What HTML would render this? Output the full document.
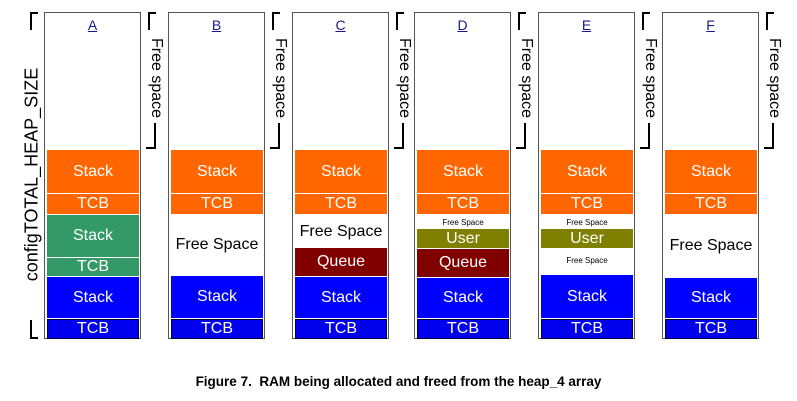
<!DOCTYPE html>
<html><head><meta charset="utf-8"><style>
body{margin:0;width:797px;height:401px;background:#fff;position:relative;overflow:hidden;font-family:"Liberation Sans",Arial,sans-serif}
.col{position:absolute;top:12px;width:97px;height:327px;border:1px solid #555;box-sizing:border-box}
.b{position:absolute;left:2px;width:92px;color:#fff;font-size:16px;display:flex;align-items:center;justify-content:center;box-sizing:border-box}
.o{background:#ff6600}.g{background:#339966}.bl{background:#0000ff}.q{background:#800000}.u{background:#808000}
.t{background:#0000ee;border:1px solid #000033}
.f{color:#000;background:none}
.lab{position:absolute;top:4px;width:100%;text-align:center;color:#1a1a8c;text-decoration:underline;font-size:14px}
.fs{position:absolute;top:12px;width:14px;height:137px}
.fs .v1{position:absolute;left:2px;top:0;width:2px;height:18px;background:#000}
.fs .h1{position:absolute;left:2px;top:0;width:8px;height:2px;background:#000}
.fs .v2{position:absolute;left:8px;bottom:0;width:2px;height:26px;background:#000}
.fs .h2{position:absolute;left:0;bottom:0;width:10px;height:2px;background:#000}
.fs span{position:absolute;left:-38px;top:57px;width:96px;text-align:center;transform:rotate(90deg);font-size:16px;color:#000;white-space:nowrap}
</style></head><body>
<div style="position:absolute;left:30px;top:12px;width:2px;height:18px;background:#000"></div>
<div style="position:absolute;left:30px;top:12px;width:8px;height:2px;background:#000"></div>
<div style="position:absolute;left:30px;top:320px;width:2px;height:19px;background:#000"></div>
<div style="position:absolute;left:30px;top:337px;width:8px;height:2px;background:#000"></div>
<div style="position:absolute;left:-80px;top:164px;width:224px;text-align:center;transform:rotate(-90deg);font-size:18px;white-space:nowrap">configTOTAL_HEAP_SIZE</div>

<div class="col" style="left:44px"><div class="lab">A</div>
<div class="b o" style="top:137px;height:43px">Stack</div>
<div class="b o" style="top:181px;height:20px">TCB</div>
<div class="b g" style="top:202px;height:42px">Stack</div>
<div class="b g" style="top:245px;height:18px">TCB</div>
<div class="b bl" style="top:264px;height:41px">Stack</div>
<div class="b t" style="top:306px;height:20px">TCB</div></div>
<div class="fs" style="left:146px"><div class="v1"></div><div class="h1"></div><div class="v2"></div><div class="h2"></div><span>Free space</span></div>

<div class="col" style="left:168px"><div class="lab">B</div>
<div class="b o" style="top:137px;height:43px">Stack</div>
<div class="b o" style="top:181px;height:20px">TCB</div>
<div class="b f" style="top:220px;height:24px">Free Space</div>
<div class="b bl" style="top:263px;height:42px">Stack</div>
<div class="b t" style="top:306px;height:20px">TCB</div></div>
<div class="fs" style="left:270px"><div class="v1"></div><div class="h1"></div><div class="v2"></div><div class="h2"></div><span>Free space</span></div>

<div class="col" style="left:292px"><div class="lab">C</div>
<div class="b o" style="top:137px;height:43px">Stack</div>
<div class="b o" style="top:181px;height:20px">TCB</div>
<div class="b f" style="top:207px;height:24px">Free Space</div>
<div class="b q" style="top:235px;height:28px">Queue</div>
<div class="b bl" style="top:264px;height:41px">Stack</div>
<div class="b t" style="top:306px;height:20px">TCB</div></div>
<div class="fs" style="left:394px"><div class="v1"></div><div class="h1"></div><div class="v2"></div><div class="h2"></div><span>Free space</span></div>

<div class="col" style="left:414px"><div class="lab">D</div>
<div class="b o" style="top:137px;height:43px">Stack</div>
<div class="b o" style="top:181px;height:20px">TCB</div>
<div class="b f" style="top:202px;height:14px;font-size:8px">Free Space</div>
<div class="b u" style="top:216px;height:19px">User</div>
<div class="b q" style="top:236px;height:28px">Queue</div>
<div class="b bl" style="top:265px;height:40px">Stack</div>
<div class="b t" style="top:306px;height:20px">TCB</div></div>
<div class="fs" style="left:516px"><div class="v1"></div><div class="h1"></div><div class="v2"></div><div class="h2"></div><span>Free space</span></div>

<div class="col" style="left:538px"><div class="lab">E</div>
<div class="b o" style="top:137px;height:43px">Stack</div>
<div class="b o" style="top:181px;height:20px">TCB</div>
<div class="b f" style="top:202px;height:14px;font-size:8px">Free Space</div>
<div class="b u" style="top:216px;height:19px">User</div>
<div class="b f" style="top:240px;height:14px;font-size:8px">Free Space</div>
<div class="b bl" style="top:262px;height:43px">Stack</div>
<div class="b t" style="top:306px;height:20px">TCB</div></div>
<div class="fs" style="left:640px"><div class="v1"></div><div class="h1"></div><div class="v2"></div><div class="h2"></div><span>Free space</span></div>

<div class="col" style="left:662px"><div class="lab">F</div>
<div class="b o" style="top:137px;height:43px">Stack</div>
<div class="b o" style="top:181px;height:20px">TCB</div>
<div class="b f" style="top:221px;height:24px">Free Space</div>
<div class="b bl" style="top:265px;height:40px">Stack</div>
<div class="b t" style="top:306px;height:20px">TCB</div></div>
<div class="fs" style="left:764px"><div class="v1"></div><div class="h1"></div><div class="v2"></div><div class="h2"></div><span>Free space</span></div>

<div style="position:absolute;left:0;width:797px;top:374px;text-align:center;font-weight:bold;font-size:13.5px">Figure 7.&nbsp; RAM being allocated and freed from the heap_4 array</div>
</body></html>
